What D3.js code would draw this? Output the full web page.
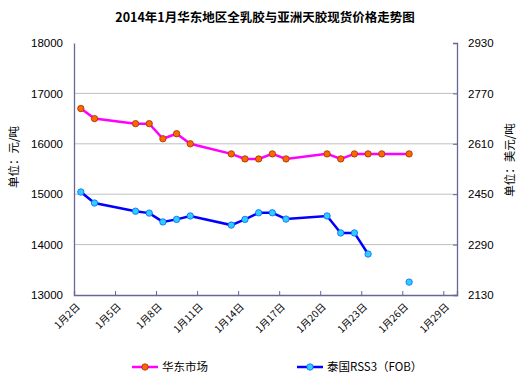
<!DOCTYPE html>
<html>
<head>
<meta charset="utf-8">
<script src="https://cdn.jsdelivr.net/npm/d3@7"></script>
<style>
  body { margin: 0; background: #fff; }
  text { font-family: "Liberation Sans", Arial, "Noto Sans CJK SC", sans-serif; }
  .cjk { font-family: "Noto Sans CJK SC", sans-serif; }
</style>
</head>
<body>
<div id="chart"></div>
<script>
// day of month (January 2014)
const days = [2, 3, 6, 7, 8, 9, 10, 13, 14, 15, 16, 17, 20, 21, 22, 23, 24, 26];
const eastChina = [16700, 16500, 16400, 16400, 16100, 16200, 16000, 15800, 15700, 15700,
  15800, 15700, 15800, 15700, 15800, 15800, 15800, 15800];
const thaiRss3 = [2457, 2422, 2396, 2390, 2362, 2370, 2381, 2352, 2370, 2391,
  2391, 2371, 2381, 2327, 2327, 2260, null, 2171];
const xTickDays = [2, 5, 8, 11, 14, 17, 20, 23, 26, 29];
const leftTicks = [13000, 14000, 15000, 16000, 17000, 18000];
const rightTicks = [2130, 2290, 2450, 2610, 2770, 2930];

const W = 528, H = 387;
const plot = { left: 74, right: 457, top: 43, bottom: 295 };
const axisColor = "#666699";
const R = 3.2;

const svg = d3.select("#chart").append("svg").attr("width", W).attr("height", H);

const x = d3.scaleLinear().domain([2, 30]).range([plot.left, plot.right]);
const yL = d3.scaleLinear().domain([13000, 18000]).range([plot.bottom, plot.top]);
const yR = d3.scaleLinear().domain([2130, 2930]).range([plot.bottom, plot.top]);

// title
svg.append("text")
  .attr("x", 265).attr("y", 22)
  .attr("text-anchor", "middle")
  .attr("class", "cjk")
  .style("font-size", "12.5px").style("font-weight", "bold")
  .text("2014年1月华东地区全乳胶与亚洲天胶现货价格走势图");

// gridlines
svg.append("g").selectAll("line")
  .data(leftTicks.slice(1, -1))
  .join("line")
  .attr("x1", plot.left).attr("x2", plot.right)
  .attr("y1", d => yL(d)).attr("y2", d => yL(d))
  .attr("stroke", "#c0c0c0").attr("stroke-width", 1);

// axes
const gL = svg.append("g").attr("transform", `translate(${plot.left},0)`)
  .call(d3.axisLeft(yL).tickValues(leftTicks).tickSize(0).tickPadding(11).tickFormat(d3.format("d")));
const gR = svg.append("g").attr("transform", `translate(${plot.right},0)`)
  .call(d3.axisRight(yR).tickValues(rightTicks).tickSize(-4).tickPadding(11).tickFormat(d3.format("d")));
const gB = svg.append("g").attr("transform", `translate(0,${plot.bottom})`)
  .call(d3.axisBottom(x).tickValues(xTickDays).tickSize(-4).tickFormat(""));

[gL, gR, gB].forEach(g => {
  g.select(".domain").attr("stroke", axisColor).attr("stroke-width", 1.3);
  g.selectAll(".tick line").attr("stroke", axisColor);
  g.selectAll("text").style("font-size", "11.5px").attr("fill", "#000")
    .style("font-family", "'Liberation Sans', Arial, sans-serif");
});

// rotated date labels
svg.append("g").selectAll("text")
  .data(xTickDays)
  .join("text")
  .attr("class", "cjk")
  .attr("transform", d => `translate(${x(d) + 4},${plot.bottom + 10}) rotate(-45)`)
  .attr("text-anchor", "end")
  .attr("dy", "0.35em")
  .style("font-size", "10px")
  .text(d => `1月${d}日`);

// axis titles
svg.append("text")
  .attr("class", "cjk")
  .attr("transform", "translate(18,157) rotate(-90)")
  .attr("text-anchor", "middle")
  .style("font-size", "11.5px")
  .text("单位：元/吨");
svg.append("text")
  .attr("class", "cjk")
  .attr("transform", "translate(514,160) rotate(-90)")
  .attr("text-anchor", "middle")
  .style("font-size", "11.5px")
  .text("单位：美元/吨");

const px = d => x(d + 0.5);

// series 1: 华东市场
const s1 = days.map((d, i) => ({ d, v: eastChina[i] }));
svg.append("path")
  .datum(s1)
  .attr("fill", "none").attr("stroke", "#ff00ff").attr("stroke-width", 2.5)
  .attr("d", d3.line().x(p => px(p.d)).y(p => yL(p.v)));
svg.append("g").selectAll("circle")
  .data(s1)
  .join("circle")
  .attr("cx", p => px(p.d)).attr("cy", p => yL(p.v)).attr("r", R)
  .attr("fill", "#ff6600").attr("stroke", "#993300").attr("stroke-width", 0.8);

// series 2: 泰国RSS3（FOB）
const s2 = days.map((d, i) => ({ d, v: thaiRss3[i] }));
svg.append("path")
  .datum(s2)
  .attr("fill", "none").attr("stroke", "#0000ff").attr("stroke-width", 2.5)
  .attr("d", d3.line().defined(p => p.v != null).x(p => px(p.d)).y(p => yR(p.v)));
svg.append("g").selectAll("circle")
  .data(s2.filter(p => p.v != null))
  .join("circle")
  .attr("cx", p => px(p.d)).attr("cy", p => yR(p.v)).attr("r", R)
  .attr("fill", "#33ccff").attr("stroke", "#0066ff").attr("stroke-width", 0.8);

// legend
const legend = [
  { name: "华东市场", line: "#ff00ff", fill: "#ff6600", stroke: "#993300", x: 132 },
  { name: "泰国RSS3（FOB）", line: "#0000ff", fill: "#33ccff", stroke: "#0066ff", x: 297 }
];
const lg = svg.append("g").selectAll("g").data(legend).join("g")
  .attr("transform", d => `translate(${d.x},367)`);
lg.append("line").attr("x1", 0).attr("x2", 26)
  .attr("stroke", d => d.line).attr("stroke-width", 2.5);
lg.append("circle").attr("cx", 13).attr("r", R)
  .attr("fill", d => d.fill).attr("stroke", d => d.stroke).attr("stroke-width", 0.8);
lg.append("text").attr("class", "cjk").attr("x", 30).attr("dy", "0.36em")
  .style("font-size", "11.5px")
  .text(d => d.name);
</script>
</body>
</html>
